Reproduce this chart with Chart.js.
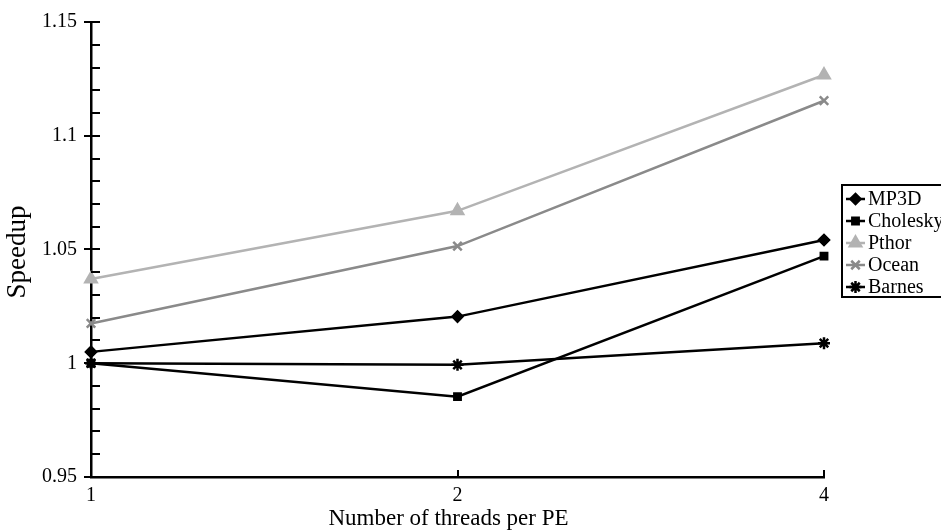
<!DOCTYPE html>
<html>
<head>
<meta charset="utf-8">
<script src="https://cdn.jsdelivr.net/npm/chart.js@4/dist/chart.umd.min.js"></script>
<style>
html,body{margin:0;padding:0;background:#fff;overflow:hidden;}
#wrap{width:941px;height:530px;position:relative;}
</style>
</head>
<body>
<div id="wrap"><canvas id="c" width="941" height="530"></canvas></div>
<script>
const categories = ['1', '2', '4'];
const seriesNames = ['MP3D', 'Cholesky', 'Pthor', 'Ocean', 'Barnes'];
const mp3d     = [1.005, 1.0205, 1.0542];
const cholesky = [1.0, 0.9853, 1.0471];
const pthor    = [1.037, 1.067, 1.1267];
const ocean    = [1.0175, 1.0515, 1.1154];
const barnes   = [1.0, 0.9993, 1.0088];
const yTickLabels = [0.95, 1, 1.05, 1.1, 1.15];
const yMinorStep = 0.01;
const xTitle = 'Number of threads per PE';
const yTitle = 'Speedup';

const FONT = '"Liberation Serif", "Times New Roman", serif';

const styles = [
  {color: '#000000', pointStyle: 'rectRot', radius: 5},
  {color: '#000000', pointStyle: 'rect', radius: 4.5},
  {color: '#b3b3b3', pointStyle: 'triangle', radius: 6.5},
  {color: '#8a8a8a', pointStyle: 'crossRot', radius: 6},
  {color: '#000000', pointStyle: 'star', radius: 6}
];
const seriesData = [mp3d, cholesky, pthor, ocean, barnes];

const datasets = seriesNames.map((name, i) => ({
  label: name,
  data: seriesData[i],
  borderColor: styles[i].color,
  backgroundColor: styles[i].color,
  pointBackgroundColor: styles[i].color,
  pointBorderColor: styles[i].color,
  pointStyle: styles[i].pointStyle,
  pointRadius: styles[i].radius,
  pointBorderWidth: 2.5,
  borderWidth: 2.5,
  tension: 0,
  fill: false
}));

const decorPlugin = {
  id: 'decor',
  afterDraw(chart) {
    const ctx = chart.ctx;
    const ys = chart.scales.y, xs = chart.scales.x;
    const ax = ys.right;
    ctx.save();
    ctx.strokeStyle = '#000';
    ctx.lineWidth = 2;
    // inward minor/major ticks on y axis
    const n = Math.round((ys.max - ys.min) / yMinorStep);
    for (let k = 1; k <= n; k++) {
      const v = ys.min + k * yMinorStep;
      const py = Math.round(ys.getPixelForValue(v));
      ctx.beginPath();
      ctx.moveTo(ax, py);
      ctx.lineTo(ax + 9, py);
      ctx.stroke();
    }
    // inward ticks on x axis
    const by = xs.top;
    for (let i = 1; i < categories.length; i++) {
      const px = Math.round(xs.getPixelForValue(i));
      ctx.beginPath();
      ctx.moveTo(px, by);
      ctx.lineTo(px, by - 7);
      ctx.stroke();
    }
    // axis titles
    ctx.fillStyle = '#000';
    ctx.textAlign = 'center';
    ctx.textBaseline = 'middle';
    ctx.font = '23px ' + FONT;
    ctx.fillText(xTitle, (chart.chartArea.left + chart.chartArea.right) / 2 - 9, 519);
    ctx.save();
    ctx.translate(18, 252);
    ctx.rotate(-Math.PI / 2);
    ctx.font = '27px ' + FONT;
    ctx.fillText(yTitle, 0, 0);
    ctx.restore();
    // legend
    const bx = 842, btop = 185, rowH = 22;
    const bh = 112;
    ctx.lineWidth = 2;
    ctx.strokeStyle = '#000';
    ctx.strokeRect(bx, btop, 130, bh);
    ctx.font = '20px ' + FONT;
    ctx.textBaseline = 'middle';
    ctx.textAlign = 'left';
    chart.data.datasets.forEach((ds, i) => {
      const ry = btop + 14 + i * rowH;
      ctx.strokeStyle = ds.borderColor;
      ctx.fillStyle = ds.borderColor;
      ctx.lineWidth = 2.5;
      ctx.beginPath();
      ctx.moveTo(846, ry);
      ctx.lineTo(865, ry);
      ctx.stroke();
      Chart.helpers.drawPoint(ctx, {
        pointStyle: ds.pointStyle,
        radius: ds.pointRadius,
        rotation: 0,
        borderWidth: 2
      }, 855.5, ry);
      ctx.fillStyle = '#000';
      ctx.fillText(ds.label, 868, ry + 1);
    });
    ctx.restore();
  }
};

new Chart(document.getElementById('c'), {
  type: 'line',
  data: { labels: categories, datasets },
  options: {
    responsive: false,
    animation: false,
    events: [],
    layout: { padding: { left: 0, right: 117, top: 22, bottom: 0 } },
    plugins: { legend: { display: false }, tooltip: { enabled: false } },
    scales: {
      x: {
        type: 'category',
        offset: false,
        grid: { display: false, drawTicks: false },
        border: { display: true, color: '#000', width: 2.5 },
        ticks: { color: '#000', font: { family: FONT, size: 20 }, padding: 7, maxRotation: 0 },
        title: { display: false },
        afterFit(s) { s.height = 53; }
      },
      y: {
        min: 0.95, max: 1.15,
        grid: { display: true, drawOnChartArea: false, drawTicks: true, tickLength: 7,
                color: '#000', lineWidth: 2 },
        border: { display: true, color: '#000', width: 2.5 },
        afterBuildTicks(s) { s.ticks = yTickLabels.map(v => ({ value: v })); },
        ticks: { color: '#000', font: { family: FONT, size: 20 }, padding: 7,
                 callback: (v) => String(v) },
        title: { display: false },
        afterFit(s) { s.width = 91; }
      }
    }
  },
  plugins: [decorPlugin]
});
</script>
</body>
</html>
